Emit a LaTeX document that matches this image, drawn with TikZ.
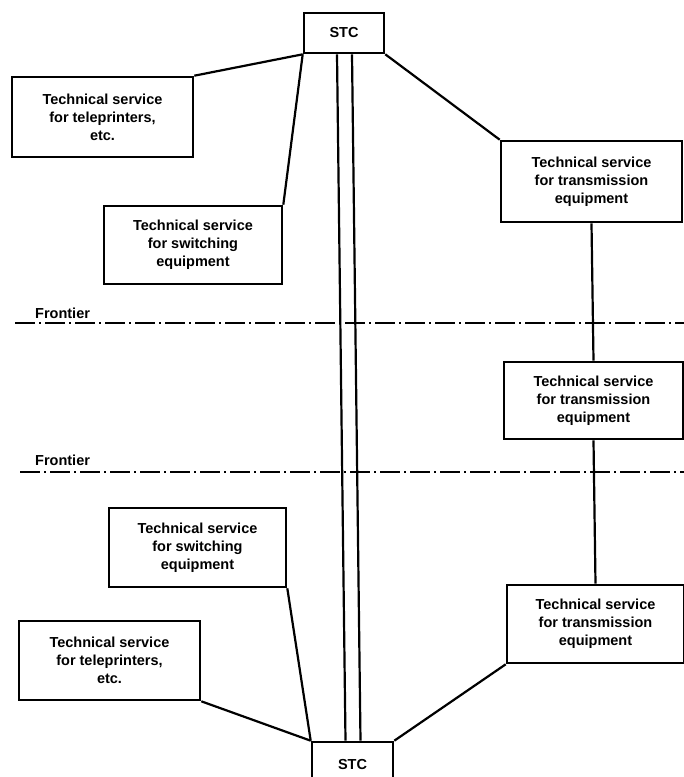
\documentclass[tikz,border=0pt]{standalone}
\usepackage{fontspec}
\setmainfont{Liberation Sans}
\begin{document}
\begin{tikzpicture}[x=1pt,y=-1pt,
  box/.style={draw, line width=2.6pt, align=center, inner sep=0pt,
    font=\bfseries\fontsize{14.5}{18}\selectfont},
  conn/.style={line width=2.2pt},
  frontierline/.style={line width=1.8pt, dash pattern=on 20pt off 4pt on 2pt off 4pt},
  lbl/.style={anchor=west, inner sep=0pt, font=\bfseries\fontsize{14.5}{18}\selectfont}]
\useasboundingbox (0,0) rectangle (684,777);
\fill[white] (0,0) rectangle (684,777);
\clip (0,0) rectangle (684,777);

% boxes
\node[box, minimum width=80, minimum height=40] (stc1) at (344,33) {STC};
\node[box, minimum width=181, minimum height=80] (tp1) at (102.5,117)
  {Technical service\\for teleprinters,\\etc.};
\node[box, minimum width=178, minimum height=78] (sw1) at (193,245)
  {Technical service\\for switching\\equipment};
\node[box, minimum width=181, minimum height=81] (tr1) at (591.5,181.5)
  {Technical service\\for transmission\\equipment};
\node[box, minimum width=179, minimum height=77] (tr2) at (593.5,400.5)
  {Technical service\\for transmission\\equipment};
\node[box, minimum width=177, minimum height=79] (sw2) at (197.5,547.5)
  {Technical service\\for switching\\equipment};
\node[box, minimum width=181, minimum height=79] (tp2) at (109.5,660.5)
  {Technical service\\for teleprinters,\\etc.};
\node[box, minimum width=177, minimum height=78] (tr3) at (595.5,624)
  {Technical service\\for transmission\\equipment};
\node[box, minimum width=81, minimum height=44] (stc2) at (352.5,764) {STC};

% frontiers
\coordinate (f1a) at (15,323);
\coordinate (f1b) at (684,323);
\coordinate (f2a) at (20,472);
\coordinate (f2b) at (684,472);
\draw[frontierline] (f1a) -- (f1b);
\draw[frontierline] (f2a) -- (f2b);
\node[lbl] (fr1) at (35,313) {Frontier};
\node[lbl] (fr2) at (35,460) {Frontier};

% connectors
\draw[conn] (stc1.south west) -- (tp1.north east);
\draw[conn] (stc1.south west) -- (sw1.north east);
\draw[conn] (stc1.south east) -- (tr1.north west);
\draw[conn] (tr1.south) -- (tr2.north);
\draw[conn] (tr2.south) -- (tr3.north);
\draw[conn] (sw2.south east) -- (stc2.north west);
\draw[conn] (tp2.south east) -- (stc2.north west);
\draw[conn] (tr3.south west) -- (stc2.north east);
\draw[conn] ([xshift=-7pt]stc1.south) -- ([xshift=-7pt]stc2.north);
\draw[conn] ([xshift=8pt]stc1.south) -- ([xshift=8pt]stc2.north);
\end{tikzpicture}
\end{document}
